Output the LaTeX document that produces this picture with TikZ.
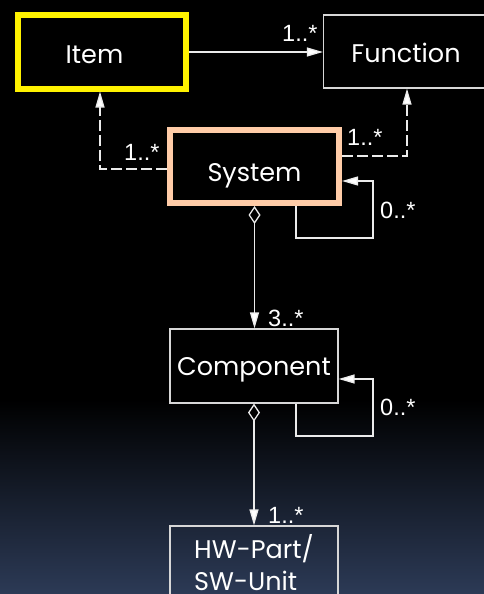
\documentclass[tikz,border=0pt]{standalone}
\usepackage{fontspec}
\setmainfont{Poppins}
\newfontfamily\labfont{Liberation Sans}
\usetikzlibrary{arrows.meta}
\definecolor{navy}{RGB}{44,58,86}
\definecolor{peach}{RGB}{255,204,168}
\definecolor{linec}{RGB}{235,235,235}
\definecolor{boxc}{RGB}{215,215,215}
\tikzset{
  cls/.style={draw=boxc, line width=1.2pt, text=white, font=\fontsize{25.5}{32}\selectfont, inner sep=0pt, minimum width=168pt, minimum height=74pt},
  conn/.style={draw=linec, line width=1.3pt},
  dashconn/.style={conn, dash pattern=on 11pt off 4pt},
  tri/.style={-{Triangle[length=16pt,width=9pt,fill=white]}},
  agg/.style={{Diamond[open,length=18pt,width=12pt,fill=black]}-{Triangle[length=16pt,width=9pt,fill=white]}},
  mult/.style={text=white, font=\labfont\fontsize{23.5}{25}\selectfont, inner sep=0pt, anchor=base west}
}
\begin{document}
\begin{tikzpicture}[x=1pt,y=-1pt]
\useasboundingbox (0,0) rectangle (484,594);
\clip (0,0) rectangle (484,594);
\fill[black] (0,0) rectangle (484,400);
\shade[top color=black, bottom color=navy] (0,399.5) rectangle (484,594);

\node[cls, draw=yellow, line width=6pt, fill=black, minimum width=168pt, minimum height=73pt, text height=23pt, text depth=0pt] (item) at (101.5,52) {\hspace*{-14pt}Item};
\node[cls, fill=black, minimum width=165pt, minimum height=73pt, text height=23pt, text depth=0pt] (func) at (406,51.5) {Function};
\node[cls, draw=peach, line width=6pt, fill=black, minimum width=169pt, minimum height=73pt, text height=29pt, text depth=0pt] (sys) at (254.5,166.5) {System};
\node[cls, fill=black, text height=18pt, text depth=0pt] (comp) at (254,366) {Component};
\node[cls, align=left] (hw) at (254,563) {HW-Part/\\SW-Unit};

\coordinate (sysloop) at (373,238);
\coordinate (comploop) at (373,436);

\draw[conn, tri] (item.east) -- (func.west |- item.east);
\draw[dashconn, tri] ([yshift=-2.5pt]sys.west) -| ([xshift=-1.5pt]item.south);
\draw[dashconn, tri] ([yshift=10.5pt]sys.east) -| ([xshift=1pt]func.south);
\draw[conn, tri] ([xshift=41.5pt]sys.south) |- (sysloop) |- ([yshift=-14.5pt]sys.east);
\draw[conn, agg] (sys.south) -- (sys.south |- comp.north);
\draw[conn, tri] ([xshift=42pt]comp.south) |- (comploop) |- ([yshift=-13pt]comp.east);
\draw[conn, agg] (comp.south) -- (comp.south |- hw.north);

\node[mult] (m1) at (282,42) {1..*};
\node[mult] (m2) at (124,160) {1..*};
\node[mult] (m3) at (347,145) {1..*};
\node[mult] (m4) at (380,218) {0..*};
\node[mult] (m5) at (268,326) {3..*};
\node[mult] (m6) at (380,415) {0..*};
\node[mult] (m7) at (268,523) {1..*};
\end{tikzpicture}
\end{document}
